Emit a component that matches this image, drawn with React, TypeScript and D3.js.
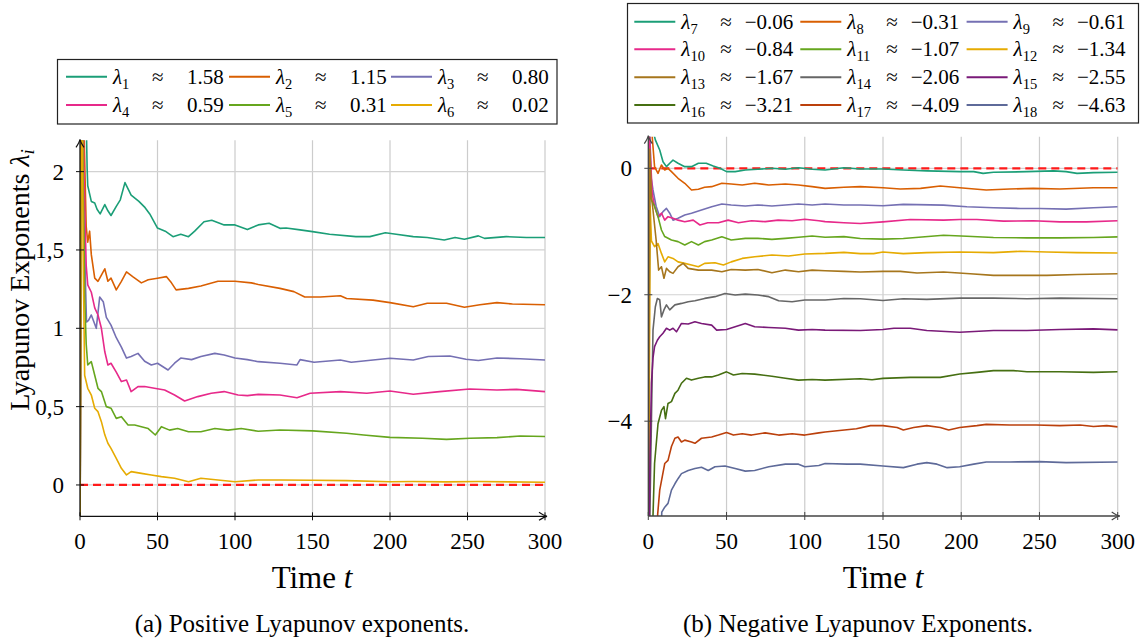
import React from 'react';
import * as d3 from 'd3';

type P = [number, number];

const TIME_TICKS = [0, 50, 100, 150, 200, 250, 300];
const POS_Y_TICKS = [0, 0.5, 1, 1.5, 2];
const POS_Y_LABELS = ['0', '0,5', '1', '1,5', '2'];
const NEG_Y_TICKS = [-4, -2, 0];
const NEG_Y_LABELS = ['\u22124', '\u22122', '0'];

const POS_IDS = ['1', '2', '3', '4', '5', '6'];
const POS_APPROX = ['1.58', '1.15', '0.80', '0.59', '0.31', '0.02'];
const NEG_IDS = ['7', '8', '9', '10', '11', '12', '13', '14', '15', '16', '17', '18'];
const NEG_APPROX = ['\u22120.06', '\u22120.31', '\u22120.61', '\u22120.84', '\u22121.07', '\u22121.34', '\u22121.67', '\u22122.06', '\u22122.55', '\u22123.21', '\u22124.09', '\u22124.63'];

// ---- positive exponents (t, value) ----
const lam1: P[] = [[0,-0.5],[1,3.2],[3.5,2.6],[4.6,2.02],[5,1.91],[7.3,1.81],[9.5,1.8],[11,1.76],[13,1.73],[16,1.79],[18,1.75],[20,1.72],[23.5,1.78],[26,1.82],[29,1.93],[31,1.89],[33,1.85],[38,1.81],[42,1.77],[45,1.73],[50,1.64],[55,1.62],[60,1.585],[65,1.6],[70,1.585],[74,1.62],[80,1.68],[85,1.69],[93,1.66],[100,1.66],[108,1.63],[115,1.66],[122,1.67],[129,1.638],[133,1.64],[142,1.628],[150,1.617],[161,1.6],[178,1.585],[187,1.585],[197,1.61],[204,1.6],[215,1.585],[224,1.58],[235,1.564],[242,1.58],[248,1.568],[257,1.59],[261,1.574],[275,1.585],[288,1.58],[300,1.58]];
const lam2: P[] = [[0,-0.5],[1,3.2],[2.5,2.3],[4,1.65],[5,1.55],[6.2,1.62],[7.3,1.47],[9.5,1.32],[11.6,1.3],[13.8,1.34],[16,1.38],[18,1.3],[20,1.32],[23.4,1.245],[26.7,1.3],[30,1.36],[34,1.33],[39.6,1.29],[44,1.31],[50,1.32],[55.7,1.33],[59,1.29],[62,1.245],[70,1.255],[78,1.27],[89,1.3],[100,1.3],[110.5,1.29],[115,1.28],[129,1.255],[138,1.234],[145,1.2],[155,1.2],[168,1.208],[172,1.19],[189,1.18],[200,1.164],[215,1.138],[224,1.16],[236.5,1.16],[248,1.134],[258,1.15],[269,1.164],[279,1.155],[300,1.15]];
const lam3: P[] = [[0,-0.5],[1,3.2],[2.2,1.85],[3.5,1.3],[4.2,1.04],[5.5,1.05],[7.3,1.085],[10.5,1.0],[12.7,1.2],[15,1.17],[17,1.07],[20,1.02],[23.4,0.94],[26.7,0.88],[30,0.81],[33,0.82],[37.4,0.84],[41.7,0.79],[46,0.766],[50,0.777],[56.8,0.734],[61,0.777],[65,0.81],[72,0.8],[78,0.82],[87,0.84],[93,0.83],[100,0.81],[108,0.8],[115,0.787],[129,0.777],[140,0.766],[142,0.8],[151,0.783],[168,0.798],[175,0.783],[200,0.809],[215,0.798],[224.7,0.82],[238.6,0.823],[249,0.802],[257,0.794],[269,0.81],[284,0.806],[300,0.798]];
const lam4: P[] = [[0,-0.5],[1,3.2],[2.5,2.0],[4,1.4],[5,1.277],[7.3,1.23],[9.5,1.13],[11.6,1.085],[13.8,1.0],[16,0.85],[18,0.766],[20,0.777],[23.4,0.72],[26.7,0.66],[30,0.67],[33,0.596],[37.4,0.628],[41.7,0.628],[48,0.617],[54.6,0.606],[61,0.574],[67.5,0.536],[76,0.564],[84.7,0.585],[93,0.596],[102,0.574],[108,0.57],[115,0.578],[129,0.574],[140,0.557],[148.5,0.585],[168,0.596],[185,0.585],[200,0.6],[215,0.579],[232,0.596],[251.5,0.613],[269,0.606],[281.6,0.61],[300,0.596]];
const lam5: P[] = [[0,-0.5],[1,3.2],[2,2.0],[3,1.2],[4,0.9],[5,0.766],[7.3,0.787],[9.5,0.7],[11.6,0.617],[13.8,0.596],[17,0.5],[20,0.49],[23.4,0.425],[26.7,0.436],[31,0.383],[35.3,0.383],[39.6,0.372],[44,0.36],[48.6,0.319],[52.5,0.372],[57.8,0.35],[63,0.36],[70,0.34],[78,0.34],[87,0.36],[95.5,0.35],[104,0.36],[115,0.343],[129,0.351],[150,0.345],[172,0.33],[183,0.319],[200,0.304],[221,0.298],[236.5,0.291],[251.5,0.298],[269,0.302],[284,0.313],[300,0.309]];
const lam6: P[] = [[0,-0.4],[1,3.2],[2,1.5],[3,0.7],[5,0.617],[7.3,0.574],[9.5,0.49],[11.6,0.468],[13.8,0.404],[16,0.32],[18,0.266],[20,0.234],[23.4,0.17],[26.7,0.106],[30,0.064],[33,0.085],[39.6,0.074],[46,0.064],[52.5,0.053],[61,0.043],[70,0.021],[78,0.043],[89,0.032],[100,0.021],[115,0.032],[129,0.032],[150,0.03],[172,0.028],[200,0.021],[215,0.022],[236,0.02],[257,0.022],[300,0.017]];

// ---- negative exponents (t, value) ----
const lam7: P[] = [[0,-7],[1,1.5],[3,0.6],[4.5,0.45],[7.3,0.29],[9.4,0.105],[11.6,0.026],[13.7,0.08],[15.8,0.13],[19,0.08],[23.3,0.026],[27.6,0.026],[32,0.08],[37,0.08],[41.5,0.037],[45.8,0],[50,-0.053],[55.5,-0.053],[62,-0.026],[70,-0.016],[79,0],[87.6,-0.016],[96,0.01],[104.7,-0.016],[113,-0.026],[125,0.01],[135.5,-0.01],[150,-0.01],[163,-0.026],[178,-0.04],[199,-0.053],[208,-0.053],[214,-0.08],[220.6,-0.063],[242,-0.053],[259,-0.04],[267,-0.053],[274,-0.08],[284.5,-0.069],[300,-0.063]];
const lam8: P[] = [[0,-7],[0.8,1.5],[2.5,0.5],[4,0.026],[6.2,-0.08],[8.4,0.053],[10.5,-0.026],[12.6,0],[14.8,-0.053],[19,-0.158],[23.3,-0.237],[27.6,-0.343],[32,-0.33],[36,-0.3],[40.5,-0.29],[47,-0.237],[53,-0.248],[60,-0.264],[68,-0.237],[77,-0.264],[87.6,-0.248],[96,-0.264],[104.7,-0.29],[113,-0.317],[125,-0.3],[135.5,-0.29],[150,-0.307],[161,-0.328],[174,-0.317],[186.6,-0.28],[199,-0.307],[216,-0.344],[231,-0.328],[246,-0.317],[263,-0.328],[284.5,-0.307],[300,-0.307]];
const lam9: P[] = [[0,-7],[0.8,0.8],[1.7,-0.13],[3,-0.343],[5,-0.6],[7.3,-0.765],[9.4,-0.686],[11.6,-0.633],[13.7,-0.71],[15.8,-0.82],[19,-0.79],[23.3,-0.74],[27.6,-0.71],[34,-0.66],[40.5,-0.607],[47,-0.565],[53,-0.58],[62,-0.596],[70,-0.58],[79,-0.596],[87.6,-0.58],[96,-0.565],[104.7,-0.58],[113,-0.565],[125,-0.58],[135.5,-0.58],[150,-0.593],[163,-0.571],[188.7,-0.582],[203.6,-0.608],[220.6,-0.624],[237.7,-0.635],[250,-0.635],[267,-0.645],[284.5,-0.624],[300,-0.608]];
const lam10: P[] = [[0,-7],[0.8,0.5],[2.5,-0.4],[4,-0.6],[6.2,-0.765],[8.4,-0.71],[10.5,-0.82],[12.6,-0.765],[15.8,-0.79],[19,-0.82],[23.3,-0.844],[28.7,-0.82],[33,-0.897],[38,-0.86],[44.8,-0.86],[51,-0.82],[57.6,-0.86],[66,-0.83],[74.7,-0.844],[83,-0.82],[91.9,-0.83],[100,-0.807],[109,-0.83],[113,-0.844],[125,-0.86],[135.5,-0.873],[150,-0.847],[167.4,-0.81],[188.7,-0.82],[199,-0.81],[210,-0.81],[227,-0.836],[246,-0.83],[263,-0.847],[280,-0.847],[300,-0.83]];
const lam11: P[] = [[0,-7],[0.8,0.0],[1.5,-0.45],[2,-0.5],[4,-0.6],[6.2,-0.765],[8.4,-0.976],[10.5,-1.08],[14.8,-1.134],[19,-1.16],[23.3,-1.214],[27.6,-1.16],[32,-1.214],[36,-1.16],[40.5,-1.134],[47,-1.082],[53,-1.134],[62,-1.108],[70,-1.108],[79,-1.124],[87.6,-1.108],[96,-1.09],[104.7,-1.07],[113,-1.09],[125,-1.08],[135.5,-1.11],[150,-1.12],[163,-1.11],[188.7,-1.058],[203.6,-1.074],[220.6,-1.095],[242,-1.1],[263,-1.1],[284.5,-1.095],[300,-1.085]];
const lam12: P[] = [[0,-7],[1.2,-0.6],[2,-1.15],[4,-1.24],[6.2,-1.19],[8.4,-1.346],[10.5,-1.48],[12.6,-1.4],[15.8,-1.425],[19,-1.48],[23.3,-1.504],[27.6,-1.53],[32,-1.557],[36,-1.504],[42.6,-1.494],[48,-1.53],[53,-1.48],[60,-1.425],[68,-1.4],[79,-1.372],[89.7,-1.388],[100,-1.356],[113,-1.346],[125,-1.33],[135.5,-1.35],[144,-1.35],[150,-1.323],[163,-1.35],[178,-1.333],[199,-1.323],[220.6,-1.333],[237.7,-1.312],[254.7,-1.323],[274,-1.333],[300,-1.339]];
const lam13: P[] = [[0,-7],[1,0.3],[2,-0.45],[3,-0.66],[5,-1.134],[6.6,-1.61],[8.4,-1.557],[10,-1.74],[11.6,-1.583],[13.7,-1.636],[15.8,-1.662],[19,-1.557],[22.3,-1.504],[25.5,-1.583],[32,-1.61],[40.5,-1.61],[47,-1.636],[53,-1.6],[62,-1.61],[70,-1.6],[79,-1.652],[87.6,-1.61],[96,-1.636],[104.7,-1.61],[113,-1.62],[125,-1.63],[135.5,-1.64],[150,-1.63],[161,-1.63],[171.7,-1.656],[188.7,-1.64],[205.7,-1.667],[220.6,-1.693],[237.7,-1.693],[254.7,-1.693],[274,-1.68],[300,-1.667]];
const lam14: P[] = [[0,-7],[2,-4],[3,-2.56],[4.5,-2.19],[5.8,-2.06],[7.3,-2.08],[8.4,-2.35],[10,-2.24],[11.6,-2.16],[13.7,-2.24],[17,-2.16],[21.2,-2.137],[25.5,-2.11],[29.8,-2.095],[36,-2.058],[42.6,-2.03],[49,-1.98],[55.5,-2.005],[62,-1.99],[70,-2.005],[77,-2.03],[83.3,-2.095],[91.9,-2.11],[100,-2.084],[113,-2.084],[125,-2.06],[135.5,-2.063],[150,-2.09],[163,-2.063],[178,-2.074],[199,-2.053],[220.6,-2.053],[242,-2.063],[263,-2.053],[300,-2.063]];
const lam15: P[] = [[0,-7],[1.1,-4.57],[2,-3.4],[3,-3.0],[4,-2.82],[5.8,-2.72],[7.3,-2.665],[9.4,-2.61],[11.6,-2.53],[13.7,-2.56],[15.8,-2.53],[18,-2.586],[21.2,-2.454],[25.5,-2.464],[29.8,-2.427],[34,-2.454],[40.5,-2.48],[43.7,-2.56],[50,-2.55],[55.5,-2.507],[62,-2.454],[68,-2.507],[77,-2.517],[87.6,-2.53],[96,-2.56],[104.7,-2.55],[113,-2.56],[135.5,-2.566],[150,-2.55],[157,-2.53],[167.4,-2.53],[178,-2.566],[199,-2.593],[220.6,-2.566],[242,-2.566],[263,-2.55],[284.5,-2.54],[300,-2.556]];
const lam16: P[] = [[0,-7],[2,-7],[3,-5.5],[4,-4.67],[6.2,-4.04],[8.4,-3.83],[10,-3.77],[11,-3.96],[12.6,-3.72],[14.8,-3.69],[17,-3.56],[19,-3.51],[21.2,-3.4],[24.4,-3.32],[27.6,-3.35],[32,-3.32],[36,-3.3],[40.5,-3.3],[44.8,-3.27],[50,-3.22],[54.4,-3.27],[60,-3.245],[68,-3.256],[79,-3.29],[87.6,-3.32],[96,-3.35],[104.7,-3.34],[113,-3.35],[135.5,-3.33],[143,-3.344],[150,-3.323],[167.4,-3.307],[186.6,-3.307],[199,-3.254],[210,-3.228],[220.6,-3.2],[233.4,-3.2],[242,-3.217],[263,-3.217],[284.5,-3.228],[300,-3.217]];
const lam17: P[] = [[0,-7],[5,-6.5],[6,-5.47],[7.3,-5.09],[10.5,-4.67],[12.6,-4.62],[14.8,-4.4],[17,-4.27],[19,-4.25],[21.2,-4.33],[23.3,-4.3],[27.6,-4.33],[29.8,-4.35],[34,-4.27],[40.5,-4.25],[44.8,-4.22],[50,-4.18],[54.4,-4.22],[60,-4.2],[66,-4.22],[74.7,-4.185],[83.3,-4.22],[91.9,-4.2],[100,-4.22],[109,-4.185],[113,-4.17],[133,-4.12],[142,-4.07],[150,-4.07],[159,-4.1],[163,-4.14],[169.6,-4.1],[178,-4.07],[186.6,-4.1],[192,-4.14],[199,-4.1],[210,-4.07],[216,-4.05],[231,-4.06],[248,-4.06],[263,-4.07],[276,-4.06],[284.5,-4.085],[293,-4.07],[300,-4.09]];
const lam18: P[] = [[0,-7],[8,-6.2],[8.6,-5.44],[10.5,-5.36],[12.6,-5.3],[14.8,-5.09],[17,-4.99],[19,-4.91],[21.2,-4.83],[25.5,-4.78],[29.8,-4.75],[34,-4.73],[38.3,-4.78],[42.6,-4.72],[49,-4.71],[55.5,-4.75],[62,-4.79],[68,-4.78],[77,-4.72],[87.6,-4.68],[96,-4.68],[100,-4.72],[109,-4.7],[113,-4.67],[127,-4.68],[135.5,-4.68],[150,-4.71],[163,-4.735],[171.7,-4.68],[178,-4.656],[184.5,-4.68],[191,-4.735],[199,-4.72],[208,-4.68],[216,-4.645],[231,-4.645],[250,-4.64],[267,-4.656],[300,-4.645]];

const POS_SERIES = [lam1, lam2, lam3, lam4, lam5, lam6];
const NEG_SERIES = [lam7, lam8, lam9, lam10, lam11, lam12, lam13, lam14, lam15, lam16, lam17, lam18];

const POS_COLORS = ['#1b9e77', '#d95f02', '#7570b3', '#e7298a', '#66a61e', '#e6ab02'];
const NEG_COLORS = ['#1b9e77', '#d95f02', '#7570b3', '#e7298a', '#66a61e', '#e6ab02', '#a6761d', '#666666', '#7a1a78', '#466f12', '#bb400c', '#5e6a99'];

const FONT = "'Liberation Serif', 'DejaVu Serif', 'Times New Roman', serif";

function arrowUp(x: number, y: number) {
  return `M${x - 4},${y + 8} Q${x - 0.6},${y + 3} ${x},${y} Q${x + 0.6},${y + 3} ${x + 4},${y + 8}`;
}
function arrowRight(x: number, y: number) {
  return `M${x - 8},${y - 4} Q${x - 3},${y - 0.6} ${x},${y} Q${x - 3},${y + 0.6} ${x - 8},${y + 4}`;
}

interface PlotProps {
  id: string;
  xRange: [number, number];
  yRange: [number, number];
  yDomain: [number, number];
  series: P[][];
  colors: string[];
  yTicks: number[];
  yLabels: string[];
  axisColor: string;
  labelRight: number;
}

function Plot(props: PlotProps) {
  const { id, xRange, yRange, yDomain, series, colors, yTicks, yLabels, axisColor, labelRight } = props;
  const x = d3.scaleLinear().domain([0, 300]).range(xRange);
  const y = d3.scaleLinear().domain(yDomain).range(yRange);
  const line = d3.line<P>().x(d => x(d[0])).y(d => y(d[1]));
  const [x0, x1] = xRange;
  const [yb, yt] = yRange;
  return (
    <g>
      <defs>
        <clipPath id={id}>
          <rect x={x0} y={yt} width={x1 - x0} height={yb - yt} />
        </clipPath>
      </defs>
      {TIME_TICKS.filter(t => t > 0).map(t => (
        <line key={'gx' + t} x1={x(t)} x2={x(t)} y1={yb} y2={yt} stroke="#cccccc" strokeWidth={1.2} />
      ))}
      {yTicks.map(v => (
        <line key={'gy' + v} x1={x0} x2={x1} y1={y(v)} y2={y(v)} stroke="#d2d2d2" strokeWidth={1.2} />
      ))}
      <g clipPath={`url(#${id})`}>
        <line x1={x(0)} x2={x(300)} y1={y(0)} y2={y(0)} stroke="#ff1a1a" strokeWidth={2.2} strokeDasharray="8,5" />
        {series.map((s, i) => (
          <path key={i} d={line(s) || ''} fill="none" stroke={colors[i]} strokeWidth={1.6} strokeLinejoin="round" />
        ))}
      </g>
      <line x1={x0} x2={x0} y1={yb} y2={yt} stroke={axisColor} strokeWidth={1.3} />
      <path d={arrowUp(x0, yt - 1)} fill="none" stroke={axisColor} strokeWidth={1.2} />
      <line x1={x0} x2={x1 + 2} y1={yb} y2={yb} stroke={axisColor} strokeWidth={1.3} />
      <path d={arrowRight(x1 + 2, yb)} fill="none" stroke={axisColor} strokeWidth={1.2} />
      {TIME_TICKS.map(t => (
        <g key={'tx' + t}>
          <line x1={x(t)} x2={x(t)} y1={yb - 4} y2={yb + 4} stroke={axisColor} strokeWidth={1} />
          <text x={x(t)} y={yb + 33} textAnchor="middle" fontFamily={FONT} fontSize={23} fill="#000">{t}</text>
        </g>
      ))}
      {yTicks.map((v, i) => (
        <g key={'ty' + v}>
          <line x1={x0 - 4} x2={x0 + 4} y1={y(v)} y2={y(v)} stroke={axisColor} strokeWidth={1} />
          <text x={labelRight} y={y(v) + 8} textAnchor="end" fontFamily={FONT} fontSize={23} fill="#000">{yLabels[i]}</text>
        </g>
      ))}
    </g>
  );
}

interface LegendProps {
  box: [number, number, number, number];
  cols: number[];
  rows: number[];
  ids: string[];
  values: string[];
  colors: string[];
  valueEnd: number;
}

function Legend(props: LegendProps) {
  const { box, cols, rows, ids, values, colors, valueEnd } = props;
  return (
    <g>
      <rect x={box[0]} y={box[1]} width={box[2] - box[0]} height={box[3] - box[1]} fill="#fff" stroke="#222" strokeWidth={1.2} />
      {ids.map((id, i) => {
        const cx = cols[i % cols.length];
        const cy = rows[Math.floor(i / cols.length)];
        return (
          <g key={id}>
            <line x1={cx} x2={cx + 41} y1={cy} y2={cy} stroke={colors[i]} strokeWidth={2} />
            <text x={cx + 47} y={cy + 7} fontFamily={FONT} fontSize={21} fill="#000">
              <tspan fontStyle="italic">λ</tspan>
              <tspan fontSize={14.5} dy={5}>{id}</tspan>
            </text>
            <text x={cx + 86} y={cy + 7} fontFamily={FONT} fontSize={21} fill="#000">≈</text>
            <text x={cx + valueEnd} y={cy + 7} textAnchor="end" fontFamily={FONT} fontSize={21} fill="#000">{values[i]}</text>
          </g>
        );
      })}
    </g>
  );
}

export default function App() {
  return (
    <svg width={1148} height={641} style={{ position: 'absolute', left: 0, top: 0, background: '#fff' }}>
      <rect x={0} y={0} width={1148} height={641} fill="#fff" />
      <Plot
        id="clipA"
        xRange={[80, 545]}
        yRange={[516.3, 140.3]}
        yDomain={[-0.2, 2.2]}
        series={POS_SERIES}
        colors={POS_COLORS}
        yTicks={POS_Y_TICKS}
        yLabels={POS_Y_LABELS}
        axisColor="#111"
        labelRight={64}
      />
      <Plot
        id="clipB"
        xRange={[648.3, 1117.7]}
        yRange={[516, 136.7]}
        yDomain={[-5.5, 0.5]}
        series={NEG_SERIES}
        colors={NEG_COLORS}
        yTicks={NEG_Y_TICKS}
        yLabels={NEG_Y_LABELS}
        axisColor="#444"
        labelRight={632}
      />
      <Legend
        box={[57.5, 59.5, 557, 124]}
        cols={[66, 229, 391]}
        rows={[76.7, 105]}
        ids={POS_IDS}
        values={POS_APPROX}
        colors={POS_COLORS}
        valueEnd={157.7}
      />
      <Legend
        box={[627.5, 3.5, 1138.5, 123]}
        cols={[634.3, 800.3, 966.6]}
        rows={[21.7, 49.3, 77.3, 105]}
        ids={NEG_IDS}
        values={NEG_APPROX}
        colors={NEG_COLORS}
        valueEnd={159}
      />
      <text transform="translate(29,280) rotate(-90)" textAnchor="middle" fontFamily={FONT} fontSize={28} fill="#000">
        Lyapunov Exponents <tspan fontStyle="italic">λ</tspan><tspan fontStyle="italic" fontSize={19} dy={5}>i</tspan>
      </text>
      <text x={312} y={588} textAnchor="middle" fontFamily={FONT} fontSize={31} fill="#000">
        Time <tspan fontStyle="italic">t</tspan>
      </text>
      <text x={883} y={588} textAnchor="middle" fontFamily={FONT} fontSize={31} fill="#000">
        Time <tspan fontStyle="italic">t</tspan>
      </text>
      <text x={302} y={632} textAnchor="middle" fontFamily={FONT} fontSize={25} fill="#000">(a) Positive Lyapunov exponents.</text>
      <text x={858} y={632} textAnchor="middle" fontFamily={FONT} fontSize={25} fill="#000">(b) Negative Lyapunov Exponents.</text>
    </svg>
  );
}
